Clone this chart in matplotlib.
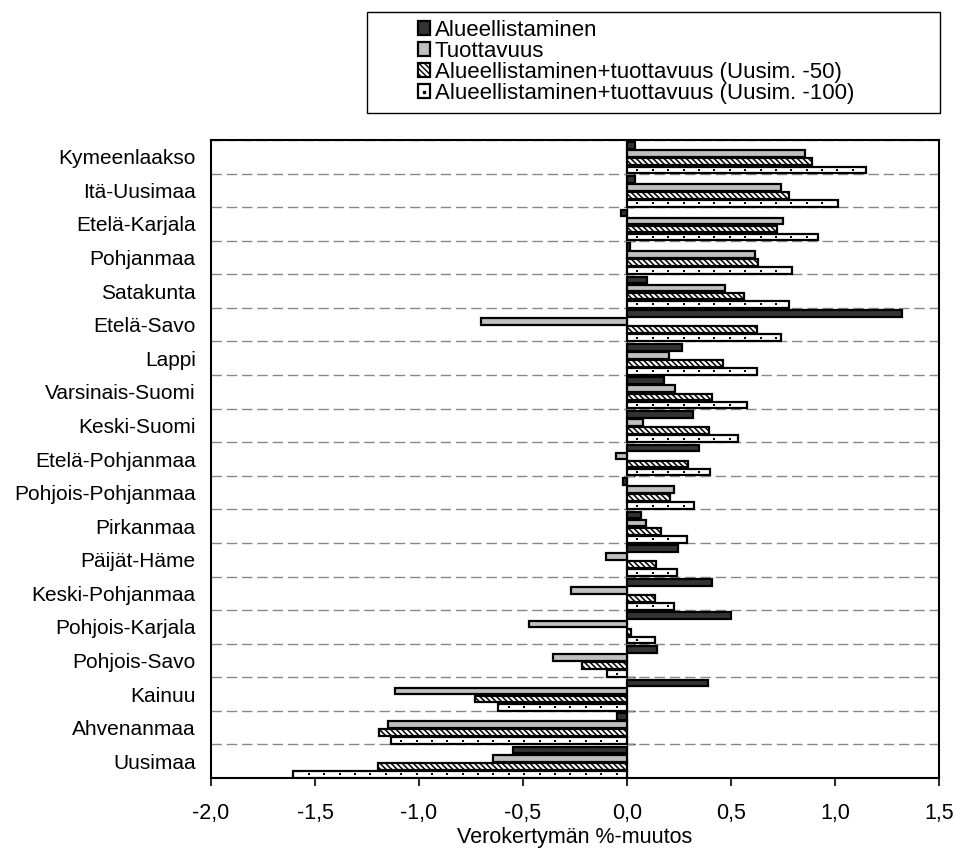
import matplotlib
matplotlib.use("Agg")
import matplotlib.pyplot as plt
from matplotlib.patches import Rectangle
from matplotlib.lines import Line2D
import numpy as np

plt.rcParams['font.family'] = ['Liberation Sans', 'DejaVu Sans']

categories = ["Kymeenlaakso", "Itä-Uusimaa", "Etelä-Karjala", "Pohjanmaa", "Satakunta",
              "Etelä-Savo", "Lappi", "Varsinais-Suomi", "Keski-Suomi", "Etelä-Pohjanmaa",
              "Pohjois-Pohjanmaa", "Pirkanmaa", "Päijät-Häme", "Keski-Pohjanmaa",
              "Pohjois-Karjala", "Pohjois-Savo", "Kainuu", "Ahvenanmaa", "Uusimaa"]

alueellistaminen = [0.04, 0.04, -0.03, 0.015, 0.095, 1.32, 0.265, 0.177, 0.318, 0.347,
                    -0.02, 0.067, 0.244, 0.408, 0.50, 0.145, 0.39, -0.047, -0.55]
tuottavuus = [0.855, 0.74, 0.75, 0.616, 0.472, -0.70, 0.20, 0.233, 0.077, -0.055,
              0.225, 0.093, -0.10, -0.27, -0.47, -0.357, -1.117, -1.15, -0.645]
at50 = [0.89, 0.777, 0.72, 0.63, 0.563, 0.624, 0.46, 0.41, 0.395, 0.292,
        0.207, 0.164, 0.14, 0.136, 0.02, -0.217, -0.732, -1.193, -1.196]
at100 = [1.15, 1.016, 0.917, 0.795, 0.777, 0.738, 0.624, 0.578, 0.533, 0.40,
         0.32, 0.29, 0.24, 0.228, 0.133, -0.098, -0.621, -1.135, -1.608]

series_names = ["Alueellistaminen", "Tuottavuus",
                "Alueellistaminen+tuottavuus (Uusim. -50)",
                "Alueellistaminen+tuottavuus (Uusim. -100)"]
xticks = [-2.0, -1.5, -1.0, -0.5, 0.0, 0.5, 1.0, 1.5]
xticklabels = ["-2,0", "-1,5", "-1,0", "-0,5", "0,0", "0,5", "1,0", "1,5"]

W, H = 957, 855
fig = plt.figure(figsize=(W/100, H/100), dpi=100)
ax = fig.add_axes([211/W, 1-778/H, (939-211)/W, (778-140)/H])

n = len(categories)
y = np.arange(n)
pitch = 0.24
h = 0.20
shift = 0.03
offsets = [(-1.5)*pitch + shift, (-0.5)*pitch + shift, 0.5*pitch + shift, 1.5*pitch + shift]
styles = [dict(color="#333333", hatch=None, hlw=1.0),
          dict(color="#c0c0c0", hatch=None, hlw=1.0),
          dict(color="white", hatch="\\\\\\\\\\\\", hlw=1.1),
          dict(color="white", hatch=None, hlw=1.0)]
data = [alueellistaminen, tuottavuus, at50, at100]
handles = []
for vals, off, st, name in zip(data, offsets, styles, series_names):
    plt.rcParams['hatch.linewidth'] = st["hlw"]
    b = ax.barh(y + off, vals, height=h, color=st["color"], edgecolor="black",
                linewidth=1.6, hatch=st["hatch"], label=name, zorder=3)
    handles.append(b)

# sparse dot pattern inside the last series' bars
dot_step = 0.074
dot_start = 0.05
dx, dy = [], []
for yi, v in zip(y + offsets[3], at100):
    xs = np.arange(dot_start, abs(v) - 0.02, dot_step) * np.sign(v)
    dx.extend(xs)
    dy.extend([yi] * len(xs))
ax.scatter(dx, dy, s=2.5, marker='s', color='black', linewidths=0, zorder=4)

ax.set_xlim(-2.0, 1.5)
ax.set_ylim(n - 0.5, -0.5)
ax.set_xticks(xticks)
ax.set_xticklabels(xticklabels, fontsize=15.5)
ax.tick_params(axis='x', direction='out', length=6, width=1.2, pad=12)
ax.set_yticks(y)
ax.set_yticklabels(categories, fontsize=15)
ax.tick_params(axis='y', length=0, pad=11)
ax.set_yticks(np.arange(n + 1) - 0.5, minor=True)
ax.tick_params(axis='y', which='minor', length=0)
ax.grid(axis='y', which='minor', color='#888888', linestyle=(0, (7.5, 3.5)), linewidth=1.0, zorder=1)
ax.set_xlabel("Verokertymän %-muutos", fontsize=15.5, labelpad=2)
for s in ax.spines.values():
    s.set_linewidth(1.5)
    s.set_color('black')

sec = ax.secondary_yaxis(2.0/3.5)
sec.set_yticks(np.arange(1, n) - 0.5)
sec.set_yticklabels([])
sec.tick_params(axis='y', direction='out', length=6, width=1.0)
sec.spines['left'].set_linewidth(1.8)
sec.spines['left'].set_zorder(5)

# legend frame
fig.patches.append(Rectangle((367/W, 1-113/H), (940-367)/W, (113-12)/H,
                             transform=fig.transFigure, facecolor='white',
                             edgecolor='black', linewidth=1.0, zorder=0))
dot_handle = Line2D([], [], marker='s', markersize=1.8, color='black', linestyle='none')
leg_handles = [handles[0], handles[1], handles[2], (handles[3], dot_handle)]
leg = fig.legend(handles=leg_handles, labels=series_names, loc='upper left',
                 bbox_to_anchor=(418/W, 1-20/H),
                 fontsize=16, frameon=False,
                 handlelength=0.55, handleheight=0.55, handletextpad=0.2,
                 labelspacing=0.0, borderpad=0.0, borderaxespad=0)

fig.savefig("out.png", dpi=100)
